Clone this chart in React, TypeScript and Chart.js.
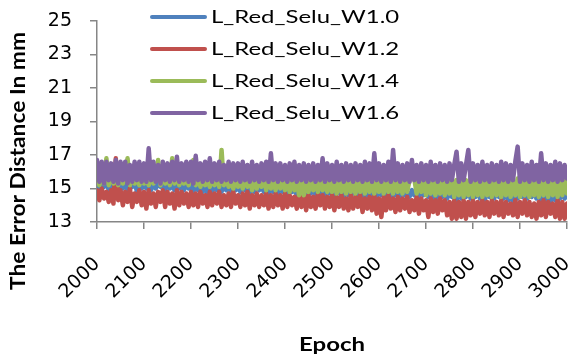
import React, { useEffect, useRef } from "react";
import { Chart, registerables } from "chart.js";

Chart.register(...registerables);

// ---------------- data ----------------
const EPOCH_START = 2000;
const EPOCH_STEP = 5;

const SERIES_NAMES = ["L_Red_Selu_W1.0", "L_Red_Selu_W1.2", "L_Red_Selu_W1.4", "L_Red_Selu_W1.6"];
const SERIES_COLORS = ["#4F81BD", "#C0504D", "#9BBB59", "#8064A2"];

const W10 = [
  15.4, 15.0, 15.3, 15.1, 15.4, 14.9, 15.3, 15.0, 15.4, 15.1,
  15.3, 15.0, 15.4, 14.9, 15.3, 15.1, 15.4, 14.8, 15.3, 15.0,
  15.4, 15.0, 15.3, 14.9, 15.4, 15.0, 15.3, 15.1, 15.4, 14.9,
  15.3, 15.0, 15.2, 14.9, 15.3, 15.0, 15.2, 14.9, 15.3, 15.0,
  15.2, 14.8, 15.3, 14.9, 15.2, 14.8, 15.3, 14.7, 15.2, 14.8,
  15.2, 14.9, 15.3, 14.8, 15.2, 14.9, 15.1, 14.8, 15.2, 14.9,
  15.1, 14.8, 15.2, 14.9, 15.1, 14.7, 15.2, 14.8, 15.1, 14.9,
  15.1, 14.8, 15.2, 14.7, 15.1, 14.8, 15.0, 14.7, 15.1, 14.8,
  15.0, 14.7, 15.1, 14.8, 15.0, 14.6, 15.1, 14.7, 15.0, 14.6,
  15.0, 14.7, 15.1, 14.6, 15.0, 14.7, 14.9, 14.6, 15.0, 14.7,
  14.9, 14.6, 15.0, 14.7, 14.9, 14.5, 15.0, 14.6, 14.9, 14.7,
  14.9, 14.6, 15.0, 14.5, 14.9, 14.4, 15.0, 14.6, 14.9, 14.5,
  14.9, 14.6, 15.0, 14.5, 14.9, 14.4, 14.9, 14.6, 14.8, 14.5,
  14.9, 14.6, 14.8, 14.5, 14.9, 14.6, 14.8, 14.5, 14.9, 14.6,
  14.8, 14.5, 14.9, 14.4, 14.8, 14.3, 14.9, 14.5, 14.8, 14.4,
  14.8, 14.5, 14.7, 14.3, 14.8, 14.4, 14.7, 14.5, 14.8, 14.4,
  14.7, 14.5, 14.8, 14.4, 14.7, 14.3, 14.8, 14.5, 14.7, 14.4,
  14.8, 14.5, 14.7, 14.4, 14.8, 14.3, 14.7, 14.2, 14.8, 14.4,
  14.7, 14.5, 14.8, 14.4, 14.7, 14.5, 14.8, 14.4, 14.7, 14.3,
  14.8, 14.2, 14.7, 14.1, 14.8, 14.3, 14.7, 14.4, 14.8, 14.4,
  14.6,
];

const W12 = [
  14.9, 14.3, 15.0, 14.4, 14.8, 14.2, 14.9, 14.1, 16.8, 14.3,
  14.9, 14.0, 14.8, 14.2, 15.0, 13.9, 14.7, 14.2, 14.9, 14.0,
  14.8, 13.8, 14.9, 14.1, 14.7, 13.9, 14.8, 14.2, 14.9, 13.9,
  14.8, 14.1, 14.7, 13.8, 14.9, 14.0, 14.8, 14.1, 14.7, 13.9,
  14.8, 14.0, 14.7, 13.9, 14.8, 14.1, 14.6, 13.9, 14.8, 14.0,
  14.7, 14.1, 14.8, 13.9, 14.6, 14.0, 14.7, 13.9, 14.8, 14.1,
  14.6, 13.9, 14.7, 14.0, 14.8, 13.8, 14.6, 14.0, 14.7, 13.9,
  14.6, 14.0, 14.7, 13.8, 14.6, 13.9, 14.7, 14.0, 14.6, 13.8,
  14.7, 13.9, 14.6, 14.0, 14.5, 13.8, 14.7, 13.9, 14.6, 13.7,
  14.6, 13.9, 14.5, 13.8, 14.7, 14.0, 14.6, 13.8, 14.5, 13.9,
  14.6, 13.7, 14.5, 13.9, 14.6, 13.8, 14.4, 13.7, 14.6, 13.8,
  14.5, 13.9, 14.6, 13.6, 14.4, 13.8, 14.5, 13.7, 14.6, 13.5,
  14.4, 13.3, 14.5, 13.7, 14.6, 13.8, 14.4, 13.6, 14.5, 13.7,
  14.4, 13.8, 14.5, 13.6, 14.3, 13.7, 14.5, 13.5, 14.4, 13.7,
  14.3, 13.3, 14.4, 13.6, 14.3, 13.5, 14.4, 13.7, 14.3, 13.4,
  14.2, 13.2, 14.3, 13.2, 14.2, 13.3, 14.3, 13.2, 14.2, 13.4,
  14.3, 13.3, 14.2, 13.5, 14.3, 13.4, 14.2, 13.3, 14.3, 13.5,
  14.2, 13.4, 14.3, 13.3, 14.2, 13.5, 14.1, 13.4, 14.3, 13.3,
  14.2, 13.5, 14.3, 13.4, 14.2, 13.3, 14.1, 13.2, 14.2, 13.4,
  14.3, 13.3, 14.2, 13.5, 14.1, 13.3, 14.3, 13.2, 14.2, 13.2,
  14.1,
];

const W14 = [
  15.8, 15.2, 15.7, 15.3, 16.8, 15.2, 15.9, 15.3, 15.7, 15.2,
  15.8, 15.3, 15.6, 16.8, 15.2, 15.8, 15.3, 15.7, 15.2, 15.8,
  15.3, 15.7, 15.2, 15.8, 15.3, 15.6, 16.7, 15.2, 15.8, 15.3,
  15.7, 15.2, 16.8, 15.3, 15.8, 15.2, 15.7, 15.3, 15.6, 15.2,
  15.8, 16.7, 15.2, 15.7, 15.1, 15.8, 15.2, 15.6, 15.1, 15.7,
  15.2, 15.8, 15.1, 17.3, 15.2, 15.7, 15.1, 15.6, 15.0, 15.7,
  15.1, 15.6, 15.0, 15.7, 15.1, 15.6, 14.9, 15.7, 15.0, 15.6,
  15.1, 15.7, 14.9, 15.6, 15.0, 15.7, 14.9, 15.6, 15.0, 15.5,
  14.9, 15.6, 14.8, 15.7, 14.9, 15.5, 14.6, 15.6, 14.6, 15.5,
  14.8, 15.6, 14.9, 15.5, 14.8, 15.6, 14.9, 15.5, 14.8, 15.6,
  14.8, 15.5, 14.7, 15.6, 14.8, 15.5, 14.7, 15.6, 14.8, 15.5,
  14.7, 15.6, 14.8, 15.5, 14.7, 15.6, 14.8, 15.5, 14.7, 15.6,
  14.8, 15.5, 14.7, 15.6, 14.8, 15.5, 14.7, 15.6, 14.8, 15.5,
  14.7, 15.6, 14.8, 15.5, 16.5, 15.6, 14.7, 15.5, 14.8, 15.6,
  14.6, 15.5, 14.7, 15.6, 14.6, 15.5, 14.7, 15.6, 14.6, 15.5,
  14.7, 15.6, 14.5, 15.5, 14.6, 15.6, 14.5, 15.5, 14.6, 15.6,
  14.5, 15.5, 14.6, 15.6, 14.5, 15.5, 14.6, 15.6, 14.5, 15.5,
  14.6, 15.6, 14.5, 15.5, 14.6, 15.6, 14.5, 15.5, 14.6, 15.6,
  14.5, 15.5, 14.6, 15.6, 14.5, 15.5, 14.6, 15.6, 14.5, 15.5,
  14.6, 15.6, 14.5, 15.5, 14.6, 15.6, 14.5, 15.5, 14.6, 15.6,
  14.7,
];

const W16 = [
  16.7, 15.4, 16.6, 15.3, 16.6, 15.5, 16.5, 15.4, 16.7, 15.3,
  16.6, 15.5, 16.6, 15.3, 16.4, 15.4, 16.6, 15.5, 16.6, 15.4,
  16.5, 15.4, 17.4, 15.5, 16.6, 15.4, 16.4, 15.3, 16.6, 15.5,
  16.5, 15.4, 16.6, 15.5, 16.9, 15.4, 16.5, 15.5, 16.6, 15.4,
  16.6, 15.3, 16.95, 15.5, 16.5, 15.4, 16.6, 15.5, 16.8, 15.4,
  16.5, 15.5, 16.6, 15.4, 16.4, 15.5, 16.6, 15.4, 16.5, 15.5,
  16.5, 15.4, 16.6, 15.5, 16.4, 15.4, 16.6, 15.5, 16.4, 15.4,
  16.5, 15.5, 16.6, 15.4, 17.1, 15.5, 16.5, 15.4, 16.5, 15.5,
  16.4, 15.4, 16.5, 15.5, 16.6, 15.4, 16.4, 15.5, 16.5, 15.4,
  16.4, 15.5, 16.5, 15.4, 16.4, 15.5, 16.8, 15.4, 16.5, 15.5,
  16.4, 15.4, 16.6, 15.5, 16.4, 15.4, 16.5, 15.5, 16.4, 15.4,
  16.5, 15.5, 16.4, 15.4, 16.6, 15.5, 16.5, 15.4, 17.1, 15.5,
  16.5, 15.4, 16.4, 15.5, 16.6, 15.4, 17.3, 15.5, 16.5, 15.4,
  16.4, 15.5, 16.5, 15.4, 16.7, 15.5, 16.4, 15.4, 16.5, 15.5,
  16.4, 15.4, 16.6, 15.5, 16.4, 15.4, 16.5, 15.5, 16.4, 15.4,
  16.5, 15.5, 16.4, 17.2, 15.4, 16.5, 15.5, 16.4, 17.3, 15.4,
  16.5, 15.5, 16.4, 15.4, 16.6, 15.5, 16.4, 15.4, 16.5, 15.5,
  16.4, 15.4, 16.6, 15.5, 16.5, 15.4, 16.4, 15.5, 16.6, 17.5,
  15.4, 16.5, 15.5, 16.4, 15.4, 16.6, 15.5, 16.4, 15.4, 17.1,
  15.5, 16.5, 15.4, 16.4, 15.5, 16.6, 15.4, 16.5, 15.5, 16.4,
  15.6,
];

const SERIES_VALUES = [W10, W12, W14, W16];

const X_MIN = 2000;
const X_MAX = 3000;
const X_STEP = 100;
const Y_MIN = 13;
const Y_MAX = 25;
const Y_STEP = 2;

const X_TITLE = "Epoch";
const Y_TITLE = "The Error Distance In mm";

// ---------------- styling helpers ----------------
const W = 570;
const H = 360;
const AXIS_COLOR = "#868686";
const TICK_FONT = { family: "'DejaVu Sans', sans-serif", size: 19 };

function drawStretched(
  ctx: CanvasRenderingContext2D,
  text: string,
  font: string,
  x: number,
  y: number,
  targetWidth: number,
  align: CanvasTextAlign,
  rotate = 0,
  measureText?: string
) {
  ctx.save();
  ctx.font = font;
  const w = ctx.measureText(measureText ?? text).width || 1;
  const sx = targetWidth / w;
  ctx.translate(x, y);
  if (rotate) ctx.rotate(rotate);
  ctx.scale(sx, 1);
  ctx.textAlign = align;
  ctx.textBaseline = "middle";
  ctx.fillStyle = "#000";
  ctx.fillText(text, 0, 0);
  ctx.restore();
}

const overlayPlugin = {
  id: "excelOverlay",
  afterDraw(chart: any) {
    const ctx: CanvasRenderingContext2D = chart.ctx;
    const area = chart.chartArea;
    chart.data.datasets.forEach((ds: any, i: number) => {
      const y = 17 + i * 32;
      ctx.save();
      ctx.strokeStyle = ds.borderColor;
      ctx.lineWidth = 4;
      ctx.lineCap = "round";
      ctx.beginPath();
      ctx.moveTo(152, y);
      ctx.lineTo(205, y);
      ctx.stroke();
      ctx.restore();
      drawStretched(ctx, ds.label, "17px Lato", 211, y + 1, 119, "left", 0, "L_Red_Selu");
    });
    drawStretched(ctx, X_TITLE, "bold 19px Lato", (area.left + area.right) / 2, 345, 66, "center");
    drawStretched(ctx, Y_TITLE, "bold 21px Lato", 18, 161, 258, "center", -Math.PI / 2);
  },
};

export default function App() {
  const canvasRef = useRef<HTMLCanvasElement | null>(null);

  useEffect(() => {
    if (!canvasRef.current) return;
    const datasets = SERIES_NAMES.map((name, si) => ({
      label: name,
      data: SERIES_VALUES[si].map((v, i) => ({ x: EPOCH_START + i * EPOCH_STEP, y: v })),
      borderColor: SERIES_COLORS[si],
      backgroundColor: SERIES_COLORS[si],
      borderWidth: 4.5,
      pointRadius: 0,
      pointHoverRadius: 0,
      tension: 0,
      borderJoinStyle: "round" as const,
      borderCapStyle: "round" as const,
      fill: false,
      order: SERIES_NAMES.length - si,
    }));

    const chart = new Chart(canvasRef.current, {
      type: "line",
      data: { datasets },
      options: {
        animation: false,
        responsive: false,
        layout: { padding: { top: 21, right: 3, left: 0, bottom: 0 } },
        plugins: {
          legend: { display: false },
          tooltip: { enabled: false },
          title: { display: false },
        },
        scales: {
          x: {
            type: "linear",
            min: X_MIN,
            max: X_MAX,
            afterFit: (s: any) => {
              s.height = 138;
              s.paddingLeft = 0;
              s.paddingRight = 0;
            },
            ticks: {
              stepSize: X_STEP,
              autoSkip: false,
              maxRotation: 45,
              minRotation: 45,
              padding: 24,
              color: "#000",
              font: TICK_FONT,
              callback: (v: any) => String(v),
            },
            grid: {
              display: true,
              drawOnChartArea: false,
              drawTicks: true,
              tickLength: 7,
              color: AXIS_COLOR,
              lineWidth: 1.5,
            },
            border: { display: true, color: AXIS_COLOR, width: 1.5 },
          },
          y: {
            type: "linear",
            min: Y_MIN,
            max: Y_MAX,
            afterFit: (s: any) => {
              s.width = 97;
              s.paddingTop = 0;
              s.paddingBottom = 0;
            },
            ticks: {
              stepSize: Y_STEP,
              padding: 18,
              color: "#000",
              font: TICK_FONT,
            },
            grid: {
              display: true,
              drawOnChartArea: false,
              drawTicks: true,
              tickLength: 7,
              color: AXIS_COLOR,
              lineWidth: 1.5,
            },
            border: { display: true, color: AXIS_COLOR, width: 1.5 },
          },
        },
      },
      plugins: [overlayPlugin],
    });
    return () => chart.destroy();
  }, []);

  return (
    <div style={{ position: "fixed", left: 0, top: 0, width: W, height: H, background: "#fff" }}>
      <canvas ref={canvasRef} width={W} height={H} style={{ display: "block", width: W, height: H }} />
    </div>
  );
}
